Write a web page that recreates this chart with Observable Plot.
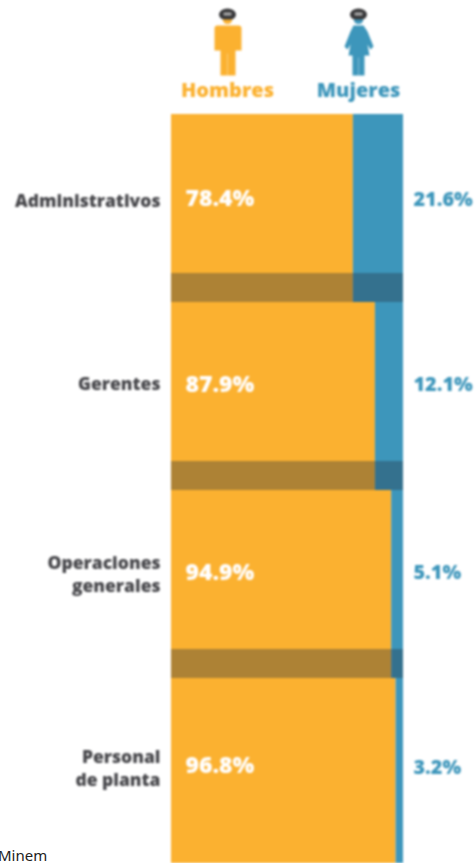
<!DOCTYPE html>
<html>
<head>
<meta charset="utf-8">
<script src="https://cdn.jsdelivr.net/npm/d3@7"></script>
<script src="https://cdn.jsdelivr.net/npm/@observablehq/plot@0.6"></script>
<style>
html,body{margin:0;padding:0;background:#fff;overflow:hidden;width:475px;height:863px}
#chart{filter:blur(0.8px)}
#chart svg{display:block;margin:0;overflow:hidden}
#src{position:absolute;left:-2px;bottom:-2px;font:15px/20px "Noto Sans",sans-serif;color:#222}
</style>
</head>
<body>
<div id="chart"></div>
<div id="src">Minem</div>
<script>
const categories = ["Administrativos","Gerentes","Operaciones\ngenerales","Personal\nde planta"];
const hombres = [78.4,87.9,94.9,96.8];
const mujeres = [21.6,12.1,5.1,3.2];
const seriesNames = ["Hombres","Mujeres"];
const orange = "#fbb130", blue = "#3d96bb", ink = "#47474b";
const FONT = "'Open Sans',sans-serif";

const helmet = `<ellipse cx="16" cy="9" rx="8.5" ry="6" fill="#38383a"/><rect x="12" y="7" width="8" height="3" rx="1" fill="#aaa"/>`;
const man = `<svg xmlns="http://www.w3.org/2000/svg" width="32" height="72" viewBox="0 0 32 72">${helmet}
<path d="M11 14h10q-1 4.500-5 4.500t-5-4.500z" fill="${orange}"/>
<path d="M3 23q0-3 3-3h21q3 0 3 3v22h-6v25H9V45H3z" fill="${orange}"/>
<rect x="15.7" y="48" width="0.7" height="22" fill="#fff" opacity=".5"/></svg>`;
const woman = `<svg xmlns="http://www.w3.org/2000/svg" width="32" height="72" viewBox="0 0 32 72">${helmet}
<path d="M11 14h10q-1 4.500-5 4.500t-5-4.500z" fill="${blue}"/>
<path d="M11 20h10l4 6 6 15-3 3-3-5 2 11h-5v20H10V50H6l2-11-3 5-3-3 6-15z" fill="${blue}"/>
<rect x="15.7" y="52" width="0.7" height="18" fill="#fff" opacity=".5"/></svg>`;
const icons = [man, woman].map(s => "data:image/svg+xml," + encodeURIComponent(s));

const header = seriesNames.map((name,i)=>({name,icon:icons[i]}));
const rows = categories.map((c,i)=>({c,h:hombres[i],m:mujeres[i]}));
const shadowRows = rows.slice(0,-1);
const pct = v => v.toFixed(1)+"%";

const headPlot = Plot.plot({
  width:475,height:114,margin:0,
  style:{background:"transparent"},
  x:{type:"point",domain:seriesNames,range:[227,358],padding:0,axis:null},
  y:{type:"point",domain:["icon","label"],range:[41,90],padding:0,axis:null},
  marks:[
    Plot.image(header,{x:"name",y:()=>"icon",src:"icon",width:32,height:72}),
    Plot.text(header,{x:"name",y:()=>"label",text:"name",fontFamily:FONT,fontWeight:800,fontSize:20,
      fill:d=>d.name==="Hombres"?orange:blue})
  ]
});

const common = {fontFamily:FONT,fontWeight:800};
const labelMarks = (i,dyV,dyM,dyL)=>{
  const data = rows.slice(i,i+1);
  return [
    Plot.text(data,{...common,x:()=>0,y:"c",text:d=>pct(d.h),textAnchor:"start",dx:14,dy:dyV,fontSize:23,fill:"#fff"}),
    Plot.text(data,{...common,x:()=>100,y:"c",text:d=>pct(d.m),textAnchor:"start",dx:10,dy:dyM,fontSize:19.8,fill:blue}),
    Plot.text(data,{...common,x:()=>0,y:"c",text:"c",textAnchor:"end",dx:-11,dy:dyL,fontSize:17.5,lineHeight:1.3,fill:ink})
  ];
};

const mainPlot = Plot.plot({
  width:475,height:749,margin:0,
  style:{background:"transparent"},
  x:{domain:[0,100],range:[171,403],axis:null},
  y:{type:"band",domain:categories,range:[0,752],padding:0,round:false,axis:null},
  marks:[
    Plot.barX(rows,{x1:0,x2:"h",y:"c",fill:orange}),
    Plot.barX(rows,{x1:"h",x2:100,y:"c",fill:blue}),
    Plot.barX(shadowRows,{x1:0,x2:100,y:"c",insetTop:159,fill:"#26323e",fillOpacity:0.363}),
    ...labelMarks(0,-10,-9,-9),
    ...labelMarks(1,-12,-12,-14),
    ...labelMarks(2,-12,-12,-11),
    ...labelMarks(3,-7,-5,-5)
  ]
});
document.getElementById("chart").append(headPlot,mainPlot);
</script>
</body>
</html>
